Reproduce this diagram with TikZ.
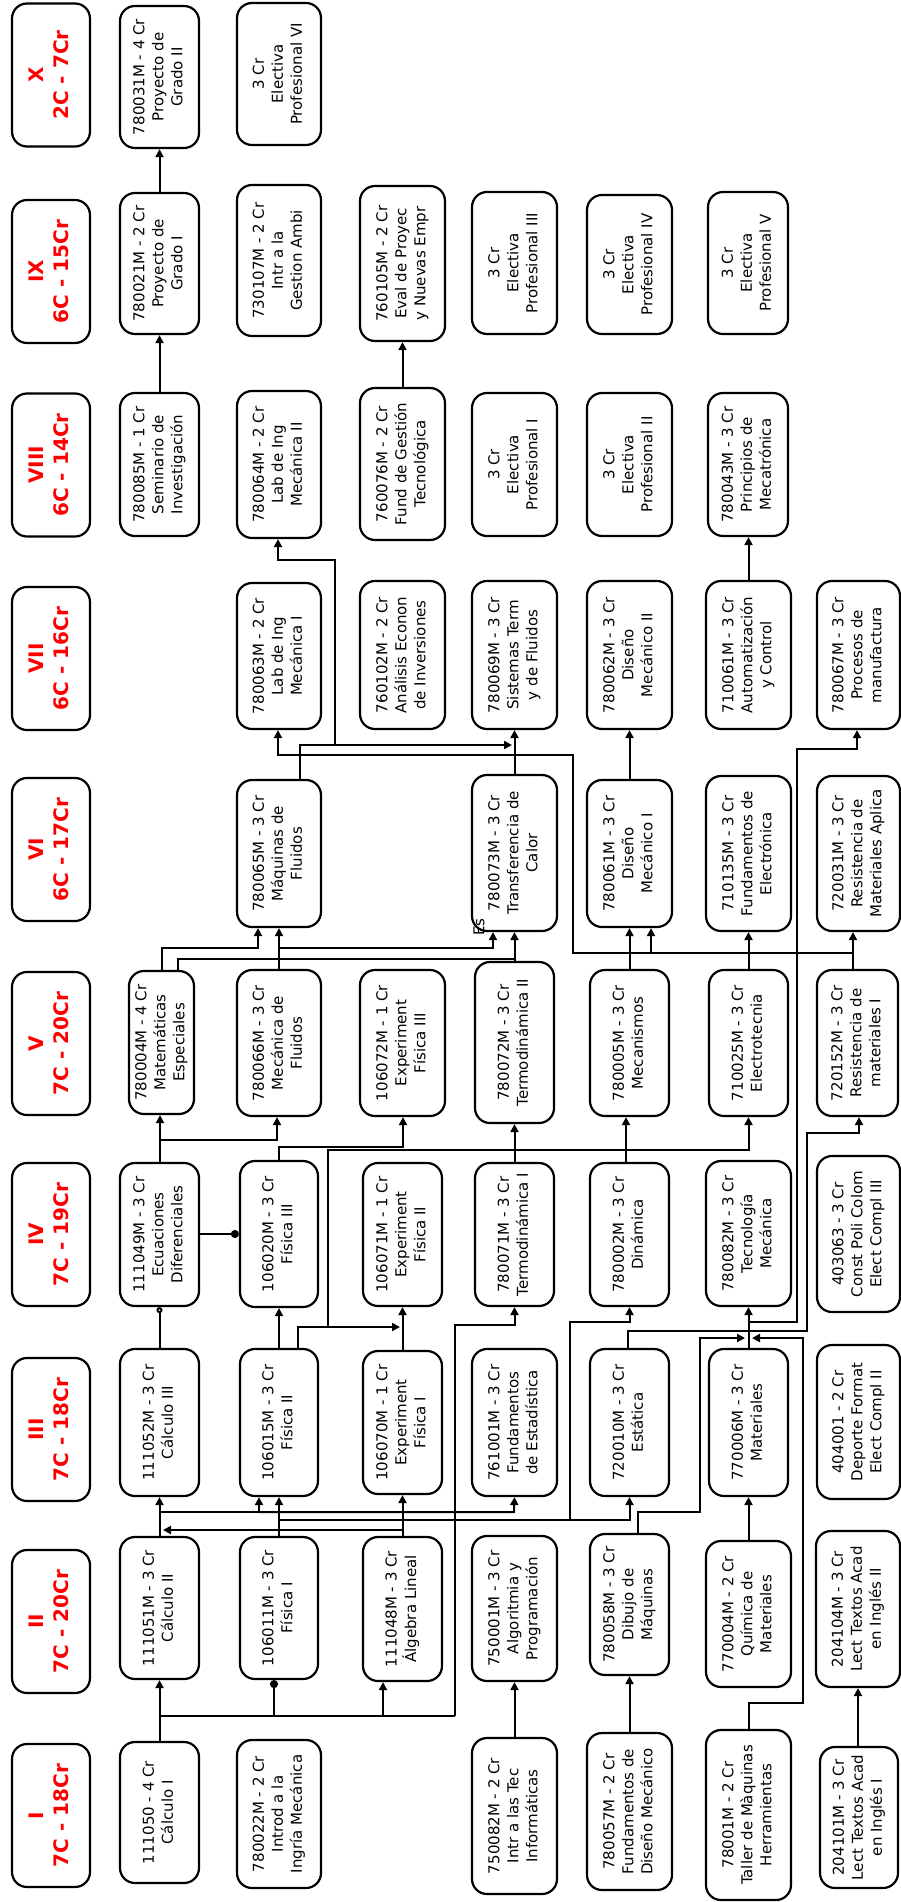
\documentclass[tikz,border=0pt]{standalone}
\usepackage{fontspec}
\setmainfont{DejaVu Sans}
\usepackage{graphicx}
\usetikzlibrary{arrows.meta}
\tikzset{
  crsbox/.style={draw, line width=2.2pt, rounded corners=15pt, inner sep=0pt, font=\fontsize{15}{19}\selectfont, text=black},
  hdrbox/.style={crsbox, minimum width=78pt, minimum height=143pt, font=\fontsize{20}{25}\selectfont\bfseries, text=red},
  conn/.style={line width=2pt},
  arr/.style={conn, -{Triangle[length=8pt,width=8pt]}},
  dotarr/.style={conn, -{Circle[length=8pt]}},
  odotarr/.style={conn, -{Circle[open,length=6pt]}},
}
\newcommand\mkcourse[6]{\node[crsbox, minimum width={#3pt-#2pt}, minimum height={#5pt-#4pt}] (#1) at ({(#2+#3)/2},{(#4+#5)/2}) {\rotatebox{90}{\begin{tabular}{@{}c@{}}#6\end{tabular}}};}
\newcommand\mkhdr[4]{\node[hdrbox] (#1) at (51,#2) {\rotatebox{90}{\begin{tabular}{@{}c@{}}#3\\#4\end{tabular}}};}
\begin{document}
\begin{tikzpicture}[x=1pt,y=-1pt]
\fill[white] (0,0) rectangle (901,1902);
\useasboundingbox (0,0) rectangle (901,1902);
% headers
\mkhdr{hX}{75}{X}{2C - 7Cr}
\mkhdr{hIX}{271.5}{IX}{6C - 15Cr}
\mkhdr{hVIII}{465}{VIII}{6C - 14Cr}
\mkhdr{hVII}{658.5}{VII}{6C - 16Cr}
\mkhdr{hVI}{849.5}{VI}{6C - 17Cr}
\mkhdr{hV}{1043.5}{V}{7C - 20Cr}
\mkhdr{hIV}{1234.5}{IV}{7C - 19Cr}
\mkhdr{hIII}{1429.5}{III}{7C - 18Cr}
\mkhdr{hII}{1621.5}{II}{7C - 20Cr}
\mkhdr{hI}{1815.5}{I}{7C - 18Cr}
% row X
\mkcourse{pg2}{120}{199}{6}{148}{780031M - 4 Cr\\Proyecto de\\Grado II}
\mkcourse{ep6}{237}{321}{3}{145}{3 Cr\\Electiva\\Profesional VI}
% row IX
\mkcourse{pg1}{120}{199}{193}{334}{780021M - 2 Cr\\Proyecto de\\Grado I}
\mkcourse{gamb}{237}{321}{185}{336}{730107M - 2 Cr\\Intr a la\\Gestion Ambi}
\mkcourse{evp}{360}{445}{186}{341}{760105M - 2 Cr\\Eval de Proyec\\y Nuevas Empr}
\mkcourse{ep3}{472}{557}{192}{334}{3 Cr\\Electiva\\Profesional III}
\mkcourse{ep4}{587}{672}{195}{334}{3 Cr\\Electiva\\Profesional IV}
\mkcourse{ep5}{708}{788}{192}{334}{3 Cr\\Electiva\\Profesional V}
% row VIII
\mkcourse{sem}{120}{199}{393}{536}{780085M - 1 Cr\\Seminario de\\Investigación}
\mkcourse{lab2}{237}{321}{391}{538}{780064M - 2 Cr\\Lab de Ing\\Mecánica II}
\mkcourse{fgt}{360}{445}{388}{540}{760076M - 2 Cr\\Fund de Gestión\\Tecnológica}
\mkcourse{ep1}{472}{557}{393}{536}{3 Cr\\Electiva\\Profesional I}
\mkcourse{ep2}{587}{672}{393}{536}{3 Cr\\Electiva\\Profesional II}
\mkcourse{meca}{708}{788}{393}{536}{780043M - 3 Cr\\Principios de\\Mecatrónica}
% row VII
\mkcourse{lab1}{237}{321}{583}{729}{780063M - 2 Cr\\Lab de Ing\\Mecánica I}
\mkcourse{aei}{360}{445}{581}{729}{760102M - 2 Cr\\Análisis Econon\\de Inversiones}
\mkcourse{stf}{472}{557}{581}{729}{780069M - 3 Cr\\Sistemas Term\\y de Fluidos}
\mkcourse{dm2}{587}{672}{581}{729}{780062M - 3 Cr\\Diseño\\Mecánico II}
\mkcourse{aut}{706}{791}{581}{729}{710061M - 3 Cr\\Automatización\\y Control}
\mkcourse{proc}{817}{900}{581}{729}{780067M - 3 Cr\\Procesos de\\manufactura}
% row VI
\mkcourse{mqf}{237}{321}{780}{927}{780065M - 3 Cr\\Máquinas de\\Fluidos}
\mkcourse{tc}{472}{557}{775}{931}{780073M - 3 Cr\\Transferencia de\\Calor}
\mkcourse{dm1}{587}{672}{780}{927}{780061M - 3 Cr\\Diseño\\Mecánico I}
\mkcourse{fel}{706}{791}{776}{931}{710135M - 3 Cr\\Fundamentos de\\Electrónica}
\mkcourse{rma}{817}{900}{776}{931}{720031M - 3 Cr\\Resistencia de\\Materiales Aplica}
% row V
\mkcourse{mesp}{129}{194}{971}{1114}{780004M - 4 Cr\\Matemáticas\\Especiales}
\mkcourse{mfl}{237}{321}{970}{1116}{780066M - 3 Cr\\Mecánica de\\Fluidos}
\mkcourse{ef3}{360}{445}{970}{1116}{106072M - 1 Cr\\Experiment\\Física III}
\mkcourse{td2}{475}{554}{962}{1123}{780072M - 3 Cr\\Termodinámica II}
\mkcourse{mec}{590}{669}{970}{1116}{780005M - 3 Cr\\Mecanismos}
\mkcourse{elt}{709}{788}{970}{1116}{710025M - 3 Cr\\Electrotecnia}
\mkcourse{rm1}{817}{898}{970}{1116}{720152M - 3 Cr\\Resistencia de\\materiales I}
% row IV
\mkcourse{ecd}{120}{199}{1163}{1306}{111049M - 3 Cr\\Ecuaciones\\Diferenciales}
\mkcourse{f3}{240}{318}{1161}{1307}{106020M - 3 Cr\\Física III}
\mkcourse{ef2}{363}{442}{1163}{1306}{106071M - 1 Cr\\Experiment\\Física II}
\mkcourse{td1}{475}{554}{1163}{1306}{780071M - 3 Cr\\Termodinámica I}
\mkcourse{din}{590}{669}{1163}{1306}{780002M - 3 Cr\\Dinámica}
\mkcourse{tmec}{706}{791}{1161}{1306}{780082M - 3 Cr\\Tecnología\\Mecánica}
\mkcourse{cpc}{817}{900}{1156}{1312}{403063 - 3 Cr\\Const Poli Colom\\Elect Compl III}
% row III
\mkcourse{c3}{120}{199}{1349}{1496}{111052M - 3 Cr\\Cálculo III}
\mkcourse{f2}{240}{318}{1349}{1496}{106015M - 3 Cr\\Física II}
\mkcourse{ef1}{363}{442}{1351}{1494}{106070M - 1 Cr\\Experiment\\Física I}
\mkcourse{fest}{472}{557}{1349}{1496}{761001M - 3 Cr\\Fundamentos\\de Estadística}
\mkcourse{est}{590}{669}{1349}{1496}{720010M - 3 Cr\\Estática}
\mkcourse{mat}{709}{788}{1349}{1496}{770006M - 3 Cr\\Materiales}
\mkcourse{dep}{817}{900}{1345}{1499}{404001 - 2 Cr\\Deporte Format\\Elect Compl II}
% row II
\mkcourse{c2}{120}{199}{1537}{1679}{111051M - 3 Cr\\Cálculo II}
\mkcourse{f1}{240}{318}{1537}{1679}{106011M - 3 Cr\\Física I}
\mkcourse{al}{363}{442}{1537}{1681}{111048M - 3 Cr\\Álgebra Lineal}
\mkcourse{alg}{472}{557}{1536}{1681}{750001M - 3 Cr\\Algoritmia y\\Programación}
\mkcourse{dib}{590}{669}{1534}{1675}{780058M - 3 Cr\\Dibujo de\\Máquinas}
\mkcourse{qm}{706}{791}{1541}{1687}{770004M - 2 Cr\\Química de\\Materiales}
\mkcourse{li2}{816}{900}{1531}{1687}{204104M - 3 Cr\\Lect Textos Acad\\en Inglés II}
% row I
\mkcourse{c1}{120}{199}{1742}{1883}{111050 - 4 Cr\\Cálculo I}
\mkcourse{iim}{237}{321}{1740}{1888}{780022M - 2 Cr\\Introd a la\\Ingría Mecánica}
\mkcourse{iti}{472}{557}{1738}{1894}{750082M - 2 Cr\\Intr a las Tec\\Informáticas}
\mkcourse{fdm}{587}{672}{1733}{1890}{780057M - 2 Cr\\Fundamentos de\\Diseño Mecánico}
\mkcourse{tmh}{706}{791}{1730}{1900}{78001M - 2 Cr\\Taller de Màquinas\\Herramientas}
\mkcourse{li1}{820}{898}{1747}{1888}{204101M - 3 Cr\\Lect Textos Acad\\en Inglés I}
% stray label
\node[rotate=90, inner sep=0pt, font=\fontsize{15}{19}\selectfont] (es) at (479,927) {Es};
% connectors upper
\draw[arr] (pg1.north) -- (pg2.south);
\draw[arr] (sem.north) -- (pg1.south);
\draw[arr] (fgt.north) -- (evp.south);
\draw[arr] (aut.north) -- (aut.north |- meca.south);
\draw[arr] (mqf.north -| 300,0) -- (300,745) -- (335,745) -- (335,560) -- (278,560) -- (lab2.south -| 278,0);
\draw[arr] (300,745) -- (512,745);
\draw[arr] (tc.north) -- (stf.south);
\draw[arr] (dm1.north) -- (dm2.south);
% V -> VI / VII
\draw[arr] (rm1.north -| 853,0) -- (853,953) -- (573,953) -- (573,755) -- (278,755) -- (lab1.south -| 278,0);
\draw[arr] (651,953) -- (dm1.south -| 651,0);
\draw[arr] (mec.north) -- (dm1.south);
\draw[arr] (elt.north) -- (fel.south);
\draw[arr] (rm1.north -| 853,0) -- (rma.south -| 853,0);
\draw[arr] (mfl.north) -- (mqf.south);
\draw[arr] (mfl.north |- 0,948) -- (493,948) -- (tc.south -| 493,0);
\draw[arr] (mesp.north -| 162,0) -- (162,948) -- (258,948) -- (mqf.south -| 258,0);
\draw[conn] (mesp.north -| 178,0) -- (178,959) -- (td2.north |- 0,959);
\draw[arr] (td2.north) -- (tc.south);
% IV -> V
\draw[arr] (td1.north) -- (td2.south);
\draw[arr] (din.north -| 626,0) -- (mec.south -| 626,0);
\draw[arr] (ecd.north -| 160,0) -- (mesp.south -| 160,0);
\draw[arr] (160,1140) -- (277,1140) -- (mfl.south -| 277,0);
\draw[dotarr] (ecd.east |- 0,1234) -- (f3.west |- 0,1234);
\draw[arr] (f3.north) -- (f3.north |- 0,1147) -- (403,1147) -- (ef3.south -| 403,0);
% III -> IV
\draw[arr] (f2.north) -- (f3.south);
\draw[arr] (f2.north -| 298,0) -- (298,1327) -- (400,1327);
\draw[arr] (328,1327) -- (328,1150) -- (elt.south |- 0,1150) -- (elt.south);
\draw[odotarr] (c3.north) -- (ecd.south);
\draw[arr] (ef1.north) -- (ef2.south);
\draw[arr] (est.north -| 628,0) -- (628,1331) -- (807,1331) -- (807,1133) -- (859,1133) -- (rm1.south -| 859,0);
\draw[arr] (mat.north) -- (tmec.south);
\draw[arr] (mat.north |- 0,1322) -- (797,1322) -- (797,749) -- (857,749) -- (proc.south -| 857,0);
% II -> III
\draw[arr] (c2.north) -- (c3.south);
\draw[arr] (c2.north |- 0,1512) -- (259,1512) -- (f2.south -| 259,0);
\draw[arr] (259,1512) -- (514,1512) -- (fest.south);
\draw[arr] (f1.north) -- (f2.south);
\draw[arr] (f1.north |- 0,1520) -- (est.south |- 0,1520) -- (est.south);
\draw[arr] (570,1520) -- (570,1322) -- (din.south |- 0,1322) -- (din.south);
\draw[arr] (al.north) -- (ef1.south);
\draw[arr] (al.north |- 0,1530) -- (163,1530);
\draw[arr] (dib.north -| 638,0) -- (638,1512) -- (700,1512) -- (700,1338) -- (745,1338);
\draw[arr] (qm.north) -- (mat.south);
\draw[arr] (li1.north -| 858,0) -- (li2.south -| 858,0);
% I -> II
\draw[arr] (c1.north) -- (c2.south);
\draw[conn] (c1.north |- 0,1716) -- (455,1716);
\draw[dotarr] (274,1716) -- (f1.south -| 274,0);
\draw[arr] (383,1716) -- (al.south -| 383,0);
\draw[arr] (455,1716) -- (455,1325) -- (td1.south |- 0,1325) -- (td1.south);
\draw[arr] (iti.north) -- (alg.south);
\draw[arr] (fdm.north) -- (dib.south);
\draw[arr] (tmh.north) -- (tmh.north |- 0,1703) -- (803,1703) -- (803,1338) -- (752,1338);
\end{tikzpicture}
\end{document}
